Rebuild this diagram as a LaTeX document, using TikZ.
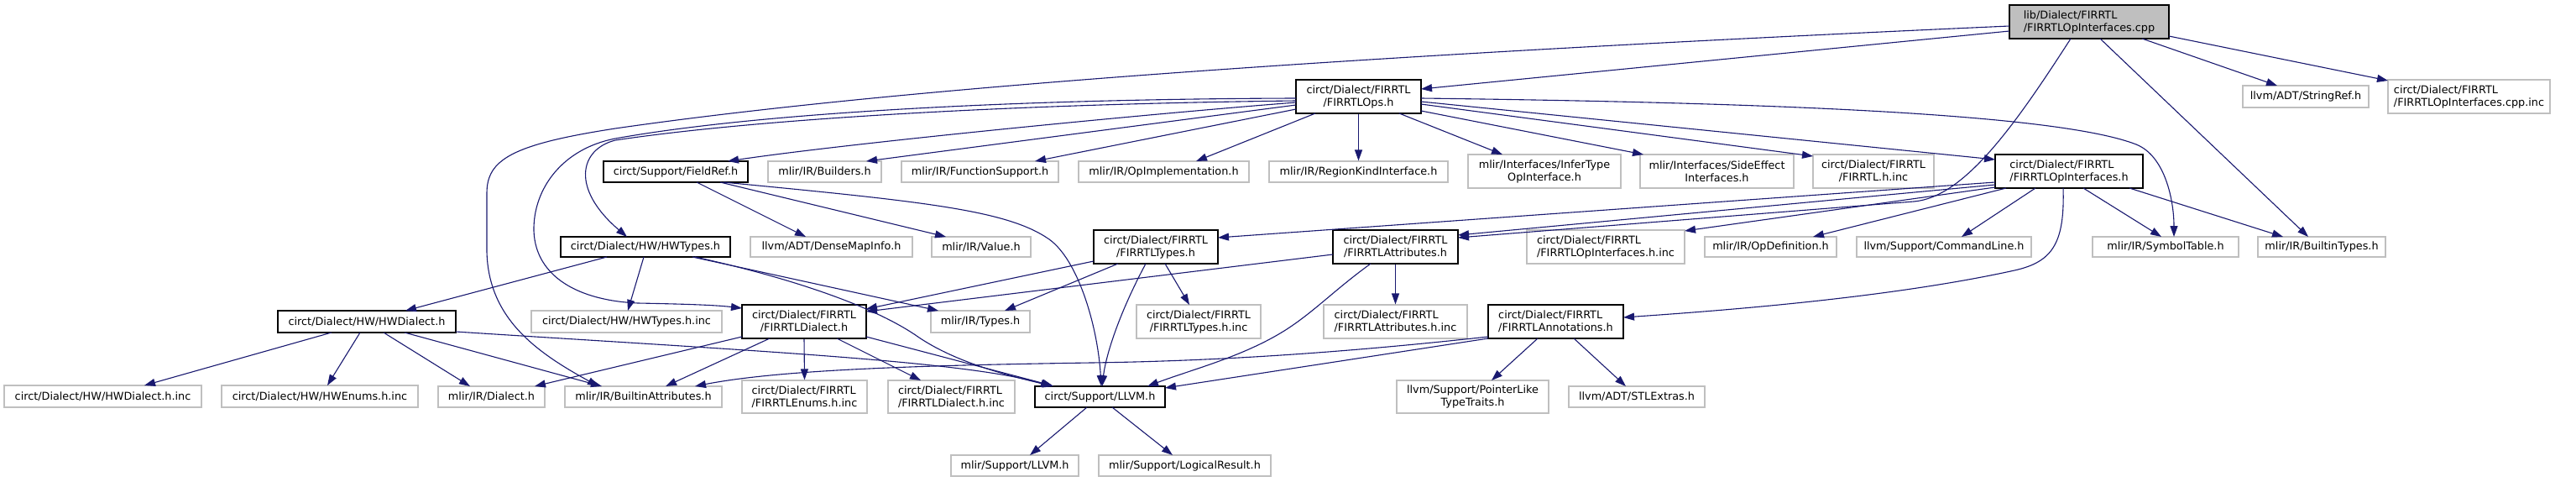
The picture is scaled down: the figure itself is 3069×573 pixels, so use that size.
\documentclass[tikz,border=0pt]{standalone}
\usepackage{fontspec}
\setmainfont{DejaVu Sans}
\usetikzlibrary{arrows.meta}
\definecolor{edgec}{HTML}{191970}
\definecolor{grayb}{HTML}{BFBFBF}
\begin{document}
\begin{tikzpicture}[x=1pt,y=-1pt,
 nbase/.style={rectangle, inner sep=0pt, font=\fontsize{12.8}{15}\selectfont, line width=1.1pt, align=center},
 doc/.style={nbase, draw=black, fill=white},
 ext/.style={nbase, draw=grayb, fill=white},
 rootn/.style={nbase, draw=black, fill=grayb},
 lone/.style={minimum height=25pt},
 ltwo/.style={minimum height=40pt},
 edg/.style={draw=edgec, line width=1.1pt, line join=round, -{Triangle[length=13pt,width=9pt]}},
]
\fill[white] (0,0) rectangle (3069,573);
\useasboundingbox (0,0) rectangle (3069,573);
% nodes
\node[rootn, ltwo, minimum width=190pt, align=left] (root) at (2489,26) {lib/Dialect/FIRRTL\\/FIRRTLOpInterfaces.cpp};
\node[doc, ltwo, minimum width=149pt] (ops) at (1618.5,115) {circt/Dialect/FIRRTL\\/FIRRTLOps.h};
\node[ext, lone, minimum width=150pt, minimum height=26pt] (stringref) at (2747,115) {llvm/ADT/StringRef.h};
\node[ext, ltwo, minimum width=193pt, align=left] (cppinc) at (2941.5,115) {circt/Dialect/FIRRTL\\/FIRRTLOpInterfaces.cpp.inc};
\node[doc, lone, minimum width=172pt] (fieldref) at (805,204.5) {circt/Support/FieldRef.h};
\node[ext, lone, minimum width=135pt] (builders) at (982.5,204.5) {mlir/IR/Builders.h};
\node[ext, lone, minimum width=187pt] (funcsupport) at (1167.5,204.5) {mlir/IR/FunctionSupport.h};
\node[ext, lone, minimum width=203pt] (opimpl) at (1386.5,204.5) {mlir/IR/OpImplementation.h};
\node[ext, lone, minimum width=213pt] (regionkind) at (1618.5,204.5) {mlir/IR/RegionKindInterface.h};
\node[ext, ltwo, minimum width=182pt] (infertype) at (1840,204) {mlir/Interfaces/InferType\\OpInterface.h};
\node[ext, ltwo, minimum width=183pt] (sideeffect) at (2045.5,204) {mlir/Interfaces/SideEffect\\Interfaces.h};
\node[ext, ltwo, minimum width=144pt] (firrtlhinc) at (2232,204) {circt/Dialect/FIRRTL\\/FIRRTL.h.inc};
\node[doc, ltwo, minimum width=176pt, align=left] (opifh) at (2465,204) {circt/Dialect/FIRRTL\\/FIRRTLOpInterfaces.h};
\node[doc, lone, minimum width=202pt, minimum height=24pt] (hwtypes) at (769,294) {circt/Dialect/HW/HWTypes.h};
\node[ext, lone, minimum width=193pt, minimum height=24pt] (densemap) at (990.5,294) {llvm/ADT/DenseMapInfo.h};
\node[ext, lone, minimum width=118pt, minimum height=24pt] (value) at (1169,294) {mlir/IR/Value.h};
\node[doc, ltwo, minimum width=148pt] (types) at (1377,294) {circt/Dialect/FIRRTL\\/FIRRTLTypes.h};
\node[doc, ltwo, minimum width=149pt] (attrs) at (1662.5,294) {circt/Dialect/FIRRTL\\/FIRRTLAttributes.h};
\node[ext, ltwo, minimum width=188pt, align=left] (opifhinc) at (1913,294) {circt/Dialect/FIRRTL\\/FIRRTLOpInterfaces.h.inc};
\node[ext, lone, minimum width=157pt, minimum height=24pt] (opdef) at (2109.5,294) {mlir/IR/OpDefinition.h};
\node[ext, lone, minimum width=208pt, minimum height=24pt] (cmdline) at (2316,294) {llvm/Support/CommandLine.h};
\node[ext, lone, minimum width=174pt, minimum height=24pt] (symtab) at (2580,294) {mlir/IR/SymbolTable.h};
\node[ext, lone, minimum width=152pt, minimum height=24pt] (builtintypes) at (2766,294) {mlir/IR/BuiltinTypes.h};
\node[doc, lone, minimum width=212pt, minimum height=26pt] (hwdialect) at (437,383) {circt/Dialect/HW/HWDialect.h};
\node[ext, lone, minimum width=227pt, minimum height=26pt] (hwtypesinc) at (746.5,383) {circt/Dialect/HW/HWTypes.h.inc};
\node[doc, ltwo, minimum width=148pt] (dialect) at (958,383) {circt/Dialect/FIRRTL\\/FIRRTLDialect.h};
\node[ext, lone, minimum width=118pt, minimum height=26pt] (irtypes) at (1168,383) {mlir/IR/Types.h};
\node[ext, ltwo, minimum width=148pt] (typesinc) at (1428,383) {circt/Dialect/FIRRTL\\/FIRRTLTypes.h.inc};
\node[ext, ltwo, minimum width=171pt, align=left] (attrsinc) at (1662.5,383) {circt/Dialect/FIRRTL\\/FIRRTLAttributes.h.inc};
\node[doc, ltwo, minimum width=161pt, align=left] (annot) at (1853.5,383) {circt/Dialect/FIRRTL\\/FIRRTLAnnotations.h};
\node[ext, lone, minimum width=235pt, minimum height=26pt] (hwdialectinc) at (122.5,472) {circt/Dialect/HW/HWDialect.h.inc};
\node[ext, lone, minimum width=234pt, minimum height=26pt] (hwenums) at (381,472) {circt/Dialect/HW/HWEnums.h.inc};
\node[ext, lone, minimum width=127pt] (irdialect) at (585.5,472.5) {mlir/IR/Dialect.h};
\node[ext, lone, minimum width=187pt] (builtinattr) at (766.5,472.5) {mlir/IR/BuiltinAttributes.h};
\node[ext, minimum height=39pt, minimum width=149pt, align=left] (enumsinc) at (958.5,472.5) {circt/Dialect/FIRRTL\\/FIRRTLEnums.h.inc};
\node[ext, minimum height=39pt, minimum width=151pt, align=left] (dialectinc) at (1133.5,472.5) {circt/Dialect/FIRRTL\\/FIRRTLDialect.h.inc};
\node[doc, lone, minimum width=155pt] (llvm) at (1310.5,472.5) {circt/Support/LLVM.h};
\node[ext, minimum height=39pt, minimum width=181pt] (pointerlike) at (1754.5,472.5) {llvm/Support/PointerLike\\TypeTraits.h};
\node[ext, lone, minimum width=162pt] (stlextras) at (1950,472.5) {llvm/ADT/STLExtras.h};
\node[ext, lone, minimum width=152pt] (mlirllvm) at (1209,554.5) {mlir/Support/LLVM.h};
\node[ext, lone, minimum width=205pt] (logical) at (1411.5,554.5) {mlir/Support/LogicalResult.h};
% root edges
\draw[edg] ([shift={(-95,11)}]root.center) -- ([shift={(74.5,-9)}]ops.center);
\draw[edg] ([shift={(-95,5)}]root.center) .. controls (1700,62) and (1100,100) .. (733,153) .. controls (610,172) and (580,190) .. (580,230) -- (580,300) .. controls (582,380) and (640,420) .. ([shift={(-53.5,-12.5)}]builtinattr.center);
\draw[edg] ([shift={(-22,20)}]root.center) .. controls (2400,150) and (2340,235) .. (2280,240) -- ([shift={(74.5,-11)}]attrs.center);
\draw[edg] ([shift={(13,20)}]root.center) -- ([shift={(-16,-12)}]builtintypes.center);
\draw[edg] ([shift={(63,20)}]root.center) -- ([shift={(-34,-13)}]stringref.center);
\draw[edg] ([shift={(95,17)}]root.center) -- ([shift={(-96.5,-19)}]cppinc.center);
% ops edges
\draw[edg] ([shift={(-74.5,7)}]ops.center) .. controls (1350,137) and (1000,172) .. ([shift={(62,-12.5)}]fieldref.center);
\draw[edg] ([shift={(-74.5,10)}]ops.center) -- ([shift={(49.5,-12.5)}]builders.center);
\draw[edg] ([shift={(-74.5,15)}]ops.center) -- ([shift={(65.5,-12.5)}]funcsupport.center);
\draw[edg] ([shift={(-51.5,20)}]ops.center) -- ([shift={(38.5,-12.5)}]opimpl.center);
\draw[edg] (ops.south) -- (regionkind.north);
\draw[edg] ([shift={(48.5,20)}]ops.center) -- ([shift={(-50,-20)}]infertype.center);
\draw[edg] ([shift={(74.5,17)}]ops.center) -- ([shift={(-87.5,-20)}]sideeffect.center);
\draw[edg] ([shift={(74.5,9)}]ops.center) -- ([shift={(-72,-18)}]firrtlhinc.center);
\draw[edg] ([shift={(74.5,6)}]ops.center) -- ([shift={(-88,-14)}]opifh.center);
\draw[edg] ([shift={(74.5,2)}]ops.center) .. controls (2100,122) and (2450,135) .. (2545,172) .. controls (2580,186) and (2590,240) .. ([shift={(10,-12)}]symtab.center);
\draw[edg] ([shift={(-74.5,5)}]ops.center) .. controls (1200,124) and (900,142) .. (733,167) .. controls (690,178) and (680,225) .. ([shift={(-22,-12)}]hwtypes.center);
\draw[edg] ([shift={(-74.5,2)}]ops.center) .. controls (1200,118) and (900,135) .. (733,165) .. controls (670,177) and (635,225) .. (636,275) .. controls (638,330) and (690,358) .. (760,361) .. controls (810,362) and (850,363) .. ([shift={(-74,-16)}]dialect.center);
% fieldref edges
\draw[edg] ([shift={(25,12.5)}]fieldref.center) -- ([shift={(-30.5,-12)}]densemap.center);
\draw[edg] ([shift={(53,12.5)}]fieldref.center) -- ([shift={(-42,-12)}]value.center);
\draw[edg] ([shift={(57,12.5)}]fieldref.center) .. controls (1100,240) and (1200,250) .. (1250,285) .. controls (1285,310) and (1308,390) .. ([shift={(1.5,-12.5)}]llvm.center);
% hwtypes edges
\draw[edg] ([shift={(-46,12)}]hwtypes.center) -- ([shift={(46,-13)}]hwdialect.center);
\draw[edg] ([shift={(-2,12)}]hwtypes.center) -- ([shift={(1.5,-13)}]hwtypesinc.center);
\draw[edg] ([shift={(56,12)}]hwtypes.center) -- ([shift={(-50,-13)}]irtypes.center);
\draw[edg] ([shift={(59,12)}]hwtypes.center) .. controls (960,335) and (1050,370) .. (1095,402) .. controls (1140,432) and (1200,447) .. ([shift={(-55.5,-12.5)}]llvm.center);
% hwdialect edges
\draw[edg] ([shift={(-42,13)}]hwdialect.center) -- ([shift={(49.5,-13)}]hwdialectinc.center);
\draw[edg] ([shift={(-8,13)}]hwdialect.center) -- ([shift={(9,-13)}]hwenums.center);
\draw[edg] ([shift={(20,13)}]hwdialect.center) -- ([shift={(-25.5,-12.5)}]irdialect.center);
\draw[edg] ([shift={(45,13)}]hwdialect.center) -- ([shift={(-49.5,-12.5)}]builtinattr.center);
\draw[edg] ([shift={(106,12)}]hwdialect.center) .. controls (900,418) and (1150,430) .. ([shift={(-57.5,-12.5)}]llvm.center);
% dialect edges
\draw[edg] ([shift={(-74,18)}]dialect.center) -- ([shift={(51.5,-12.5)}]irdialect.center);
\draw[edg] ([shift={(-41,20)}]dialect.center) -- ([shift={(26.5,-12.5)}]builtinattr.center);
\draw[edg] (dialect.south) -- (enumsinc.north);
\draw[edg] ([shift={(39,20)}]dialect.center) -- ([shift={(-36.5,-19.5)}]dialectinc.center);
\draw[edg] ([shift={(74,18)}]dialect.center) -- ([shift={(-56,-13)}]llvm.center);
% types edges
\draw[edg] ([shift={(-74,17)}]types.center) -- ([shift={(74,-15)}]dialect.center);
\draw[edg] ([shift={(-45,20)}]types.center) -- ([shift={(29,-13)}]irtypes.center);
\draw[edg] ([shift={(-12,20)}]types.center) .. controls (1335,370) and (1318,420) .. ([shift={(2.5,-12.5)}]llvm.center);
\draw[edg] ([shift={(11,20)}]types.center) -- ([shift={(-11,-20)}]typesinc.center);
% attrs edges
\draw[edg] ([shift={(-74.5,9)}]attrs.center) -- ([shift={(74,-12)}]dialect.center);
\draw[edg] (attrs.south) -- (attrsinc.north);
\draw[edg] ([shift={(-29.5,20)}]attrs.center) .. controls (1590,345) and (1565,372) .. (1530,394) .. controls (1480,425) and (1420,440) .. ([shift={(56.5,-12.5)}]llvm.center);
% opifh edges
\draw[edg] ([shift={(-88,13)}]opifh.center) -- ([shift={(74,-11)}]types.center);
\draw[edg] ([shift={(-88,16)}]opifh.center) -- ([shift={(74.5,-14)}]attrs.center);
\draw[edg] ([shift={(-88,19)}]opifh.center) -- ([shift={(94,-19)}]opifhinc.center);
\draw[edg] ([shift={(-75,20)}]opifh.center) -- ([shift={(50.5,-12)}]opdef.center);
\draw[edg] ([shift={(-40,20)}]opifh.center) -- ([shift={(21,-12)}]cmdline.center);
\draw[edg] ([shift={(-7,20)}]opifh.center) .. controls (2460,290) and (2445,312) .. (2400,322) .. controls (2250,355) and (2050,370) .. ([shift={(80.5,-5)}]annot.center);
\draw[edg] ([shift={(17,20)}]opifh.center) -- ([shift={(-5,-12)}]symtab.center);
\draw[edg] ([shift={(72,20)}]opifh.center) -- ([shift={(-46,-12)}]builtintypes.center);
% annot edges
\draw[edg] ([shift={(-21.5,20)}]annot.center) -- ([shift={(22.5,-19.5)}]pointerlike.center);
\draw[edg] ([shift={(21.5,20)}]annot.center) -- ([shift={(-13,-12.5)}]stlextras.center);
\draw[edg] ([shift={(-80.5,18)}]annot.center) .. controls (1600,420) and (1450,430) .. (1300,432) .. controls (1100,435) and (930,440) .. ([shift={(61.5,-12.5)}]builtinattr.center);
\draw[edg] ([shift={(-80.5,20)}]annot.center) -- ([shift={(77.5,-10.5)}]llvm.center);
% llvm edges
\draw[edg] ([shift={(-15.5,12.5)}]llvm.center) -- ([shift={(18,-12.5)}]mlirllvm.center);
\draw[edg] ([shift={(14.5,12.5)}]llvm.center) -- ([shift={(-14.5,-12.5)}]logical.center);
\end{tikzpicture}
\end{document}
